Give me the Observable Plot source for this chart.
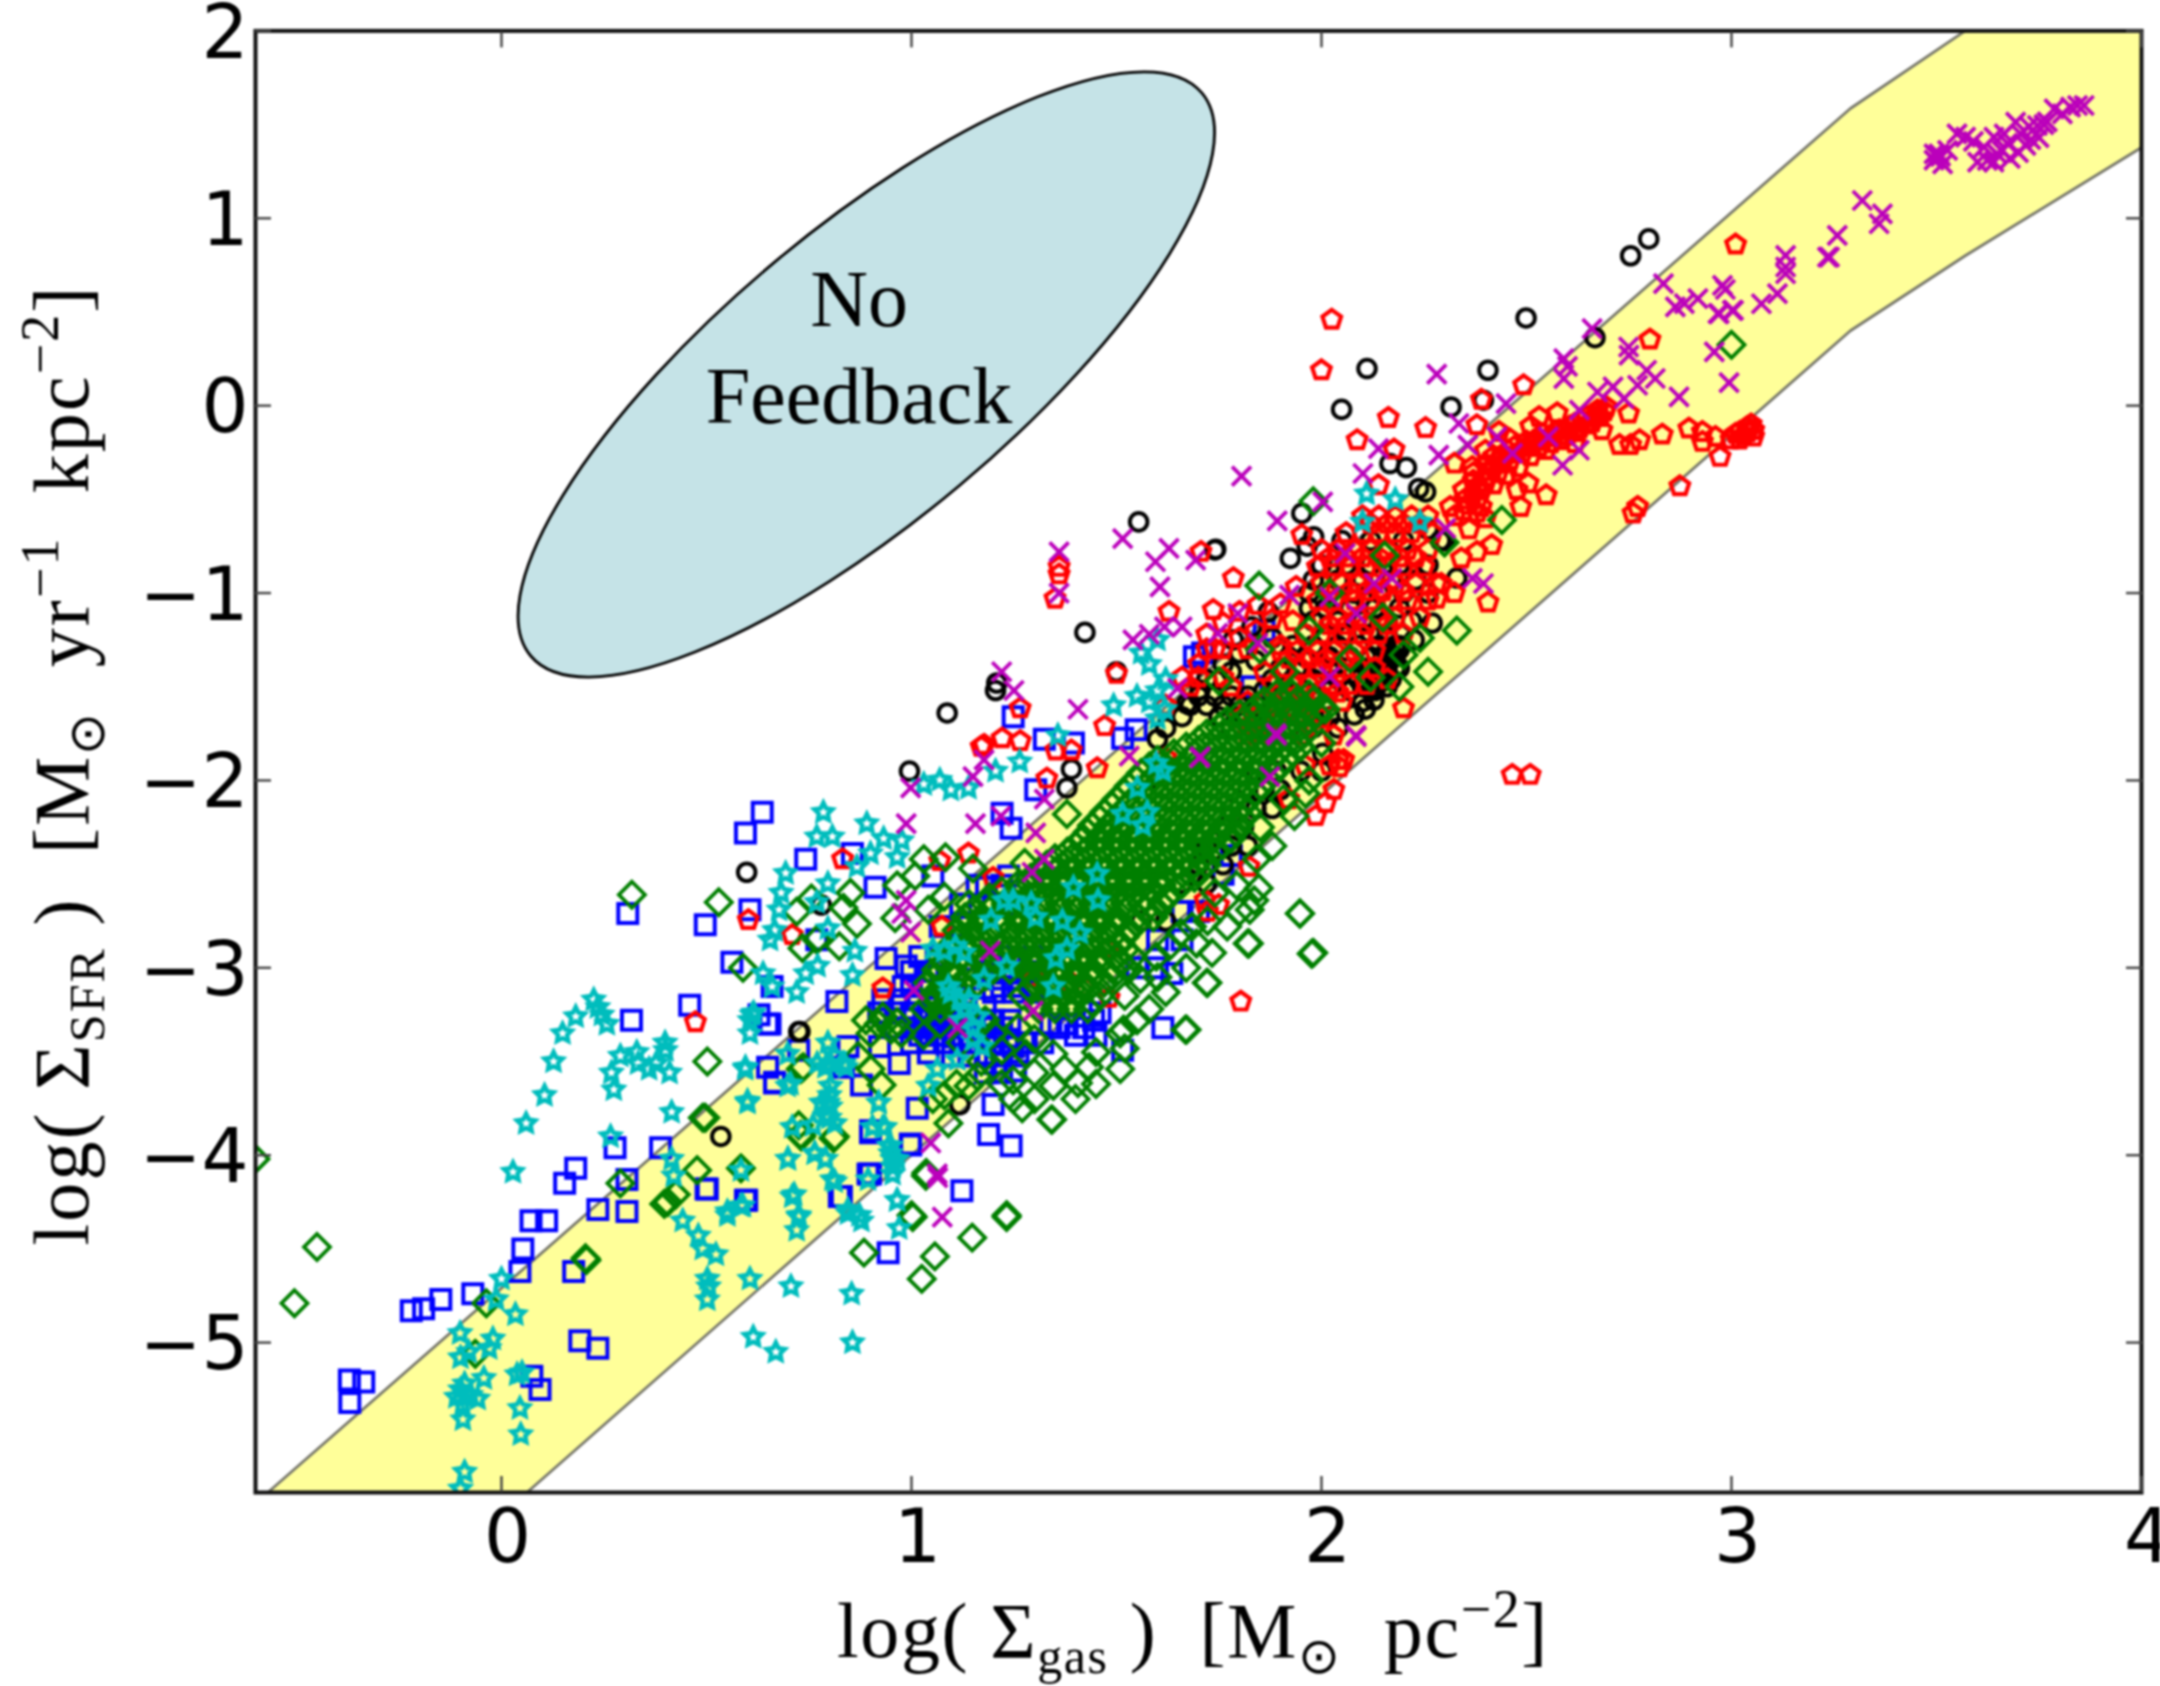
<!DOCTYPE html>
<html><head><meta charset="utf-8">
<script src="https://cdn.jsdelivr.net/npm/d3@7"></script>
<script src="https://cdn.jsdelivr.net/npm/@observablehq/plot@0.6"></script>
<style>html,body{margin:0;padding:0;background:#fff}svg{display:block;filter:blur(0.9px)}</style>
</head><body><div id="chart"></div>
<script>
const xTicks=[0,1,2,3,4];
const yTicks=[-5,-4,-3,-2,-1,0,1,2];
const bandX=[-0.57,0.062,3.29,3.57,4.0];
const bandUpper=[-5.8,-4.59,1.586,2,2];
const bandLower=[-5.8,-5.8,0.40,0.80,1.378];
const noFeedback=[{t:"No",x:0.872,y:0.423},{t:"Feedback",x:0.872,y:-0.094}];

const blackSparse=[[1.087,-1.64],[.995,-1.95],[.598,-2.49],[.78,-2.665],[.728,-3.34],[1.118,-3.73],[.535,-3.90],[1.39,-1.94],[1.379,-2.04],[.725,-3.34],
[2.499,.468],[2.111,.198],[2.406,.189],[2.049,-.02],[2.316,-.007],[2.395,.029],[2.667,.363],[2.754,.80],[2.798,.89],[2.167,-.309],[2.207,-.33],[2.237,-.442],[2.254,-.46],[1.952,-.575],[1.742,-.766],[1.924,-.815],[1.981,-.70],[1.965,-.75],[2.33,-.92],[2.27,-1.16],[2.226,-1.25],[1.704,-1.517],[1.785,-1.25],[1.671,-1.59],[2.128,-1.571],[2.107,-1.62],[2.003,-1.855],[1.554,-.62],[1.74,-.77],[1.423,-1.21],[1.50,-1.42],[1.208,-1.48],[1.205,-1.52],
[2.26,-.66],[2.30,-.72],[2.19,-1.40],[2.17,-1.33],[2.15,-1.47],[2.18,-1.28],[2.16,-1.38],[2.14,-1.43],[2.12,-1.52],[2.10,-1.58],[2.08,-1.65],[1.62,-1.72],[1.60,-1.78],[1.66,-1.66],[1.72,-1.46],[1.76,-1.38],[1.80,-1.32],[1.58,-2.0],[1.83,-1.18],[1.87,-1.1],[1.78,-1.42],[1.84,-1.36],[1.88,-1.24]];
const blackRows=[[-1.52,1.86,1.91,1.96,2.02,2.07,2.13],[-1.40,1.90,1.94,2.0,2.06,2.11,2.16],[-1.28,1.93,1.98,2.04,2.09,2.14,2.19],[-1.15,1.98,2.04,2.10,2.16,2.22],[-1.0,1.97,2.02,2.08,2.14,2.2,2.26],[-.85,2.0,2.06,2.12,2.19,2.26],[-.72,2.05,2.12,2.2,2.29],[-1.72,1.78,1.85,1.92,1.98,2.04],[-1.95,1.84,1.89,1.95,2.0],[-2.15,1.78,1.84,1.88],[-2.35,1.72,1.78,1.82],[-2.55,1.66,1.72],[-2.75,1.56,1.62],[-1.6,1.68,1.72,1.76,1.80,1.84],
[-1.46,1.88,1.93,1.98,2.04,2.09,2.14,2.17],[-1.34,1.92,1.96,2.02,2.07,2.12,2.15,2.18],[-1.22,1.96,2.01,2.06,2.12,2.16],[-1.08,1.97,2.01,2.07,2.13,2.19],[-.93,1.98,2.04,2.1,2.17,2.23],[-1.66,1.75,1.8,1.86,1.92,1.98,2.02],[-1.4,2.12,2.15,2.18],[-1.5,2.1,2.13,2.16],[-1.3,2.16,2.19],[-1.55,1.7,1.74,1.78,1.82],[-2.45,1.7,1.76],[-2.25,1.76,1.81],[-2.05,1.82,1.86,1.9]];

const blueSparse=[[.317,-3.28],[.459,-3.20],[.655,-3.30],[.649,-3.53],[.666,-3.61],[.388,-3.96],[.277,-3.96],[.181,-4.07],[.154,-4.15],[.306,-4.13],[.235,-4.29],[.306,-4.30],[.072,-4.35],[.11,-4.35],[.052,-4.50],[.045,-4.62],[.176,-4.62],[-.07,-4.74],[-.148,-4.77],[-.19,-4.82],[-.22,-4.83],[.499,-4.18],[.598,-4.24],[.829,-4.22],[.90,-4.10],[.90,-3.88],[.997,-3.94],[.943,-4.52],[.191,-4.99],[.235,-5.03],[.074,-5.18],[.094,-5.25],[-.371,-5.20],[-.336,-5.21],[-.37,-5.32],
[.636,-2.17],[.595,-2.28],[.742,-2.42],[.856,-2.39],[.911,-2.57],[.606,-2.69],[.497,-2.77],[.769,-2.85],[.562,-2.97],[.66,-3.10],[.818,-3.18],[.938,-2.95],[.987,-2.99],[.649,-3.30],[.628,-3.25],[.666,-3.615],[.725,-3.44],[.845,-3.42],[.922,-3.42],[.97,-3.51],[1.041,-3.455],[.878,-3.625],[.834,-3.53],[1.014,-3.75],[.90,-3.87],[.894,-4.10],[.998,-3.945],[1.199,-3.73],[1.188,-3.89],[1.243,-3.95],[1.123,-4.19],[.824,-4.22],[.502,-4.18],[.595,-4.24],[.308,-2.71],
[1.635,-3.03],[1.613,-3.32],[1.515,-3.44],[1.45,-3.36],[1.444,-3.28],[1.40,-3.36],[1.254,-3.55],[1.205,-3.51],[1.248,-3.42],[1.303,-2.05],[1.243,-2.255],[1.221,-2.175],[1.248,-1.66],[1.324,-1.78],[1.395,-1.80],[1.515,-1.775],[1.548,-1.73],[1.052,-2.51],[1.183,-2.57],[1.237,-2.51],[1.69,-1.34],[1.71,-1.32],[1.86,-1.2],[1.83,-1.5]];
const blueRows=[[-3.17,.93,.97,1.01,1.05],[-3.24,.92,.96,1.0,1.04,1.08,1.12,1.46],[-3.32,.96,1.01,1.05,1.09,1.14,1.18,1.22,1.36,1.42],[-3.40,1.0,1.04,1.08,1.12,1.16,1.20,1.24,1.28,1.32],[-3.47,1.1,1.14,1.18,1.22,1.26],[-3.10,.98,1.0,1.22,1.26,1.30],[-3.02,1.0,1.04,1.18,1.22,1.28],[-2.94,1.02,1.06,1.24,1.30],[-2.78,1.07,1.12],[-2.66,1.12,1.2,1.24],[-2.56,1.16,1.22],[-3.56,1.18,1.22],[-3.0,1.55,1.6],[-2.85,1.6,1.66],[-2.7,1.66,1.7],[-2.4,1.78],[-2.5,1.76],
[-3.28,1.03,1.06,1.09,1.12,1.15,1.2,1.24],[-3.36,1.02,1.06,1.1,1.14,1.18,1.21],[-3.21,1.06,1.09,1.13,1.18],[-3.13,1.2,1.25,1.3],[-3.06,1.14,1.2,1.25],[-3.3,1.34,1.38]];

const redSparse=[[.473,-3.29],[1.265,-1.615],[1.221,-1.775],[1.177,-1.81],[1.265,-1.79],[1.352,-1.84],[1.39,-1.84],[1.471,-1.71],[1.33,-1.99],[1.453,-1.935],[.832,-2.42],[1.069,-2.43],[1.139,-2.39],[1.199,-2.52],[.602,-2.745],[.709,-2.825],[1.074,-2.78],[.93,-3.11],[1.803,-3.18],[1.986,-2.19],[1.823,-2.46],[1.716,-2.64],[1.749,-2.665],[1.722,-2.70],[2.054,-1.89],[2.044,-1.93],[1.482,-3.16],[1.42,-3.10],[1.39,-3.08],
[2.025,.459],[1.9998,.189],[2.163,-.065],[2.254,-.119],[2.087,-.184],[2.177,-.234],[2.39,.032],[2.493,.109],[2.801,.353],[3.01,.86],[2.379,-.104],[2.433,-.14],[2.531,-.06],[2.575,-.04],[2.749,-.042],[2.684,-.131],[2.727,-.21],[2.754,-.21],[2.776,-.184],[2.831,-.154],[2.896,-.122],[2.929,-.14],[2.929,-.193],[2.961,-.167],[2.972,-.273],[2.874,-.43],[2.771,-.54],[2.76,-.575],[2.548,-.478],[2.486,-.54],[2.504,-.415],[2.477,-.45],[2.324,-.309],[2.139,-.424],
[2.999,-.18],[3.02,-.14],[3.038,-.115],[3.054,-.13],[3.048,-.10],[3.02,-.18],[3.054,-.165],[3.03,-.16],[3.01,-.15],[3.04,-.14],
[2.39,-.45],[2.40,-.38],[2.42,-.327],[2.44,-.31],[2.477,-.255],[2.499,-.22],[2.52,-.184],[2.548,-.236],[2.564,-.167],[2.597,-.131],[2.618,-.096],[2.646,-.06],[2.673,-.025],[2.695,-.007],[2.618,-.2],[2.586,-.184],[2.51,-.11],[2.51,-.27],[2.455,-.24],[2.40,-.24],[2.368,-.327],[2.346,-.45],[2.39,-.54],[2.346,-.56],[2.324,-.59],[2.37,-.40],[2.42,-.42],[2.38,-.50],[2.45,-.37],[2.48,-.33],[2.53,-.22],[2.58,-.13],[2.62,-.14],[2.66,-.09],[2.42,-.27],[2.46,-.18],[2.40,-.60],[2.36,-.66],
[2.37,-.47],[2.38,-.43],[2.40,-.41],[2.41,-.35],[2.43,-.36],[2.44,-.28],[2.46,-.29],[2.49,-.25],[2.51,-.21],[2.54,-.19],[2.56,-.2],[2.58,-.16],[2.60,-.16],[2.63,-.12],[2.65,-.1],[2.68,-.06],[2.69,-.03],[2.665,-.06],[2.635,-.08],[2.605,-.11],[2.57,-.14],[2.54,-.15],[2.50,-.19],[2.47,-.22],[2.43,-.3],[2.40,-.31],[2.37,-.36],[2.35,-.5],[2.36,-.53],[2.38,-.57],
[2.415,-.744],[2.379,-.78],[2.341,-.815],[2.324,-1.0],[2.406,-1.05],[2.281,-1.03],[2.292,-.95],[2.314,-.54],[2.2,-1.615],[2.161,-1.46],[1.785,-.92],[1.706,-.78],[1.628,-1.10],[1.736,-1.09],[1.952,-.69],[1.938,-.967],[1.845,-1.064],[2.041,-1.891],[2.465,-1.97],[2.509,-1.97],[1.62,-1.88],[1.60,-1.93],[1.36,-.86],[1.36,-.90],[1.35,-1.03],[1.50,-1.43],[1.17,-1.82],[2.03,-2.05],[2.01,-2.12],
[1.72,-1.22],[1.76,-1.16],[1.80,-1.1],[1.84,-1.2],[1.88,-1.14],[1.9,-1.06],[1.93,-1.15],[1.7,-1.38],[1.74,-1.3],[1.8,-1.24],[1.86,-1.42],[1.68,-1.5],[1.62,-1.6],[1.78,-1.5],[1.9,-1.28]];
const redRows=[[-.59,2.10,2.14,2.18,2.22,2.26],[-.68,2.06,2.10,2.14,2.18,2.22,2.27],[-.77,2.0,2.04,2.08,2.12,2.16,2.21,2.26],[-.86,1.99,2.03,2.07,2.11,2.16,2.2,2.25],[-.95,2.0,2.05,2.09,2.13,2.18,2.23,2.28],[-1.04,1.99,2.03,2.08,2.12,2.17,2.21,2.26],[-1.13,2.0,2.04,2.09,2.14,2.18,2.24],[-1.22,1.96,2.0,2.05,2.1,2.14,2.2],[-1.31,1.90,1.94,1.99,2.03,2.08,2.13],[-1.40,1.91,1.95,1.99,2.04,2.09,2.13],[-1.49,1.88,1.93,1.97,2.02,2.07,2.11],[-1.58,1.82,1.86,1.91,1.96,2.01,2.05],[-1.67,1.80,1.85,1.9,1.95,2.0],[-1.76,1.82,1.88,1.95,2.03],[-1.3,1.72,1.76,1.82],[-1.45,1.66,1.7,1.76],[-1.92,1.96,2.02],[-2.1,1.92],[-2.9,1.48],[-3.05,1.3],
[-.63,2.12,2.16,2.2,2.24],[-.81,2.02,2.06,2.1,2.14,2.19,2.23],[-.99,2.02,2.07,2.11,2.15,2.2],[-1.17,2.02,2.06,2.11,2.16],[-1.35,1.92,1.97,2.01,2.06],[-1.53,1.9,1.95,1.99,2.04],[-1.71,1.82,1.87,1.92,1.97]];

const greenSparse=[[-.45,-4.49],[-.505,-4.79],[-.037,-4.79],[-.064,-5.06],[.205,-4.55],[.29,-4.15],[.425,-4.21],[.397,-4.26],[.477,-4.08],[.584,-4.07],[.491,-3.80],[.502,-3.50],[.725,-3.84],[.73,-3.89],[.813,-3.90],[.73,-3.54],[1.003,-4.33],[.884,-4.52],[1.025,-4.66],[1.057,-4.54],[1.035,-4.11],[-.6,-4.02],[.318,-2.61],[.53,-2.65],[3.0,.325],[2.26,-1.42],[2.33,-1.2],[2.44,-.61],[1.98,-2.92],[1.947,-2.71],[1.82,-2.87],[1.72,-3.08],[1.668,-3.33],[1.517,-3.33],[1.148,-4.44],[1.232,-4.33],
[.72,-2.70],[.756,-2.63],[.851,-2.60],[.834,-2.68],[.867,-2.765],[.769,-2.85],[.734,-2.895],[.824,-2.885],[.589,-3.0],[.965,-2.56],[1.009,-2.51],[1.03,-2.42],[1.083,-2.41],[1.15,-2.47],[1.08,-2.62],[1.041,-2.69],[.96,-2.735],[1.276,-2.44],[1.379,-2.18],
[.889,-3.28],[.92,-3.30],[.95,-3.33],[.975,-3.35],[.90,-3.35],[.93,-3.26],[.965,-3.29],[.736,-3.53],[.90,-3.54],[.927,-3.625],[.87,-3.47],[.497,-3.80],[.731,-3.90],[.81,-3.91],[1.036,-4.095],[1.09,-3.83],[1.052,-3.70],[1.139,-3.63],[1.08,-3.68],[1.161,-3.58],[1.11,-3.62],[1.27,-3.75],[1.248,-3.70],[1.248,-3.60],[1.341,-3.81],[1.346,-3.63],[1.406,-3.615],[1.373,-3.54],[1.433,-3.53],[1.346,-3.46],[1.509,-3.54],[1.509,-3.35],[1.52,-3.43],[1.58,-3.22],[1.671,-3.33],[1.722,-3.08],[1.733,-2.92],[1.695,-2.87],[1.823,-2.87],[1.948,-2.71],[1.976,-2.925],[1.722,-2.75],[1.684,-2.78],[1.656,-2.815],[1.629,-2.885],[1.597,-2.94],[1.558,-3.06],[1.52,-3.15],[1.793,-2.56],[1.825,-2.69],[1.836,-2.64],[1.847,-2.575],[1.842,-2.42],[1.934,-2.19],[1.907,-2.10],[1.961,-2.07],[1.0,-4.32],[1.232,-4.32],
[.405,-4.25],[.207,-4.56],[1.343,-3.81],[1.30,-3.70],[1.22,-3.62],[1.40,-3.70],[1.45,-3.62],[1.30,-3.56],[1.45,-3.45],[1.55,-3.28],[1.62,-3.13],[1.67,-3.0],[1.60,-3.05],[1.77,-2.78],[1.80,-2.70],[1.74,-2.60],[1.88,-2.35],[1.85,-2.25],[1.97,-2.0],[2.0,-1.8],[2.01,-1.62],
[1.848,-.96],[1.98,-.51],[2.154,-.80],[2.30,-.73],[2.02,-1.0],[2.15,-1.13],[2.07,-1.35],[1.97,-1.2],[2.12,-1.45],[2.2,-1.33],[2.19,-1.5],[1.85,-1.3],[1.75,-1.47],[1.91,-1.42],[2.24,-1.24],
[1.2,-3.35],[1.26,-3.32],[1.3,-3.38],[1.22,-3.44],[1.17,-3.5],[1.28,-3.46],[1.12,-3.4],[1.07,-3.3],[1.03,-3.36],[1.18,-3.28]];
const greenRows=[[-3.22,1.03,1.07,1.11,1.31,1.35,1.39,1.43],[-3.15,1.05,1.09,1.13,1.27,1.33,1.37,1.41,1.46],[-3.08,1.04,1.08,1.12,1.16,1.30,1.34,1.38,1.42,1.47],[-3.01,1.06,1.10,1.15,1.20,1.24,1.28,1.32,1.36,1.40,1.44,1.49,1.53],[-2.94,1.07,1.12,1.17,1.22,1.26,1.30,1.34,1.38,1.42,1.46,1.50,1.54],[-2.87,1.10,1.14,1.18,1.23,1.27,1.31,1.35,1.39,1.43,1.47,1.51],[-2.80,1.11,1.15,1.19,1.24,1.28,1.32,1.36,1.40,1.44,1.48,1.53],[-2.73,1.13,1.17,1.21,1.26,1.30,1.34,1.38,1.42,1.46,1.50,1.55,1.59],[-2.66,1.14,1.18,1.23,1.27,1.32,1.36,1.40,1.44,1.48,1.52,1.56,1.61],[-2.59,1.22,1.26,1.31,1.35,1.39,1.43,1.47,1.51,1.55,1.59,1.64],[-2.52,1.29,1.33,1.37,1.41,1.45,1.49,1.53,1.57,1.61,1.65,1.69],[-2.45,1.33,1.37,1.41,1.45,1.49,1.53,1.57,1.61,1.65,1.69,1.72],[-2.38,1.38,1.42,1.46,1.50,1.54,1.58,1.62,1.66,1.70,1.74],[-2.31,1.42,1.46,1.50,1.54,1.58,1.62,1.66,1.70,1.74,1.78],[-2.24,1.44,1.48,1.52,1.56,1.60,1.64,1.68,1.72,1.76,1.80],[-2.17,1.47,1.51,1.55,1.59,1.63,1.67,1.71,1.75,1.79,1.82],[-2.10,1.50,1.54,1.58,1.62,1.66,1.70,1.74,1.78,1.82],[-2.03,1.53,1.57,1.61,1.65,1.69,1.73,1.77,1.81,1.85],[-1.96,1.56,1.60,1.64,1.68,1.72,1.76,1.80,1.84,1.88],[-1.89,1.60,1.64,1.68,1.72,1.76,1.80,1.84,1.88,1.91],[-1.82,1.67,1.71,1.75,1.79,1.83,1.87,1.91,1.95],[-1.75,1.72,1.76,1.80,1.84,1.88,1.92,1.96],[-1.68,1.77,1.81,1.85,1.89,1.93,1.97],[-1.61,1.84,1.88,1.92,1.96,2.0],[-1.54,1.89,1.93,1.97],
[-3.185,1.05,1.09,1.31,1.35,1.39,1.44],[-3.115,1.07,1.11,1.29,1.35,1.39,1.43],[-3.045,1.06,1.10,1.14,1.18,1.3,1.36,1.4,1.44,1.49],[-2.975,1.08,1.13,1.18,1.22,1.26,1.3,1.34,1.38,1.42,1.46,1.51],[-2.905,1.09,1.14,1.19,1.24,1.28,1.32,1.36,1.4,1.44,1.48,1.52],[-2.835,1.12,1.16,1.2,1.25,1.29,1.33,1.37,1.41,1.45,1.49,1.52],[-2.765,1.13,1.17,1.21,1.26,1.3,1.34,1.38,1.42,1.46,1.5,1.55],[-2.695,1.15,1.19,1.24,1.28,1.32,1.36,1.4,1.44,1.48,1.52,1.57,1.6],[-2.625,1.19,1.24,1.28,1.33,1.37,1.41,1.45,1.49,1.53,1.57,1.62],[-2.555,1.26,1.29,1.33,1.37,1.41,1.45,1.49,1.53,1.57,1.61,1.66],[-2.485,1.31,1.35,1.39,1.43,1.47,1.51,1.55,1.59,1.63,1.67,1.7],[-2.415,1.35,1.39,1.43,1.47,1.51,1.55,1.59,1.63,1.67,1.71],[-2.345,1.4,1.44,1.48,1.52,1.56,1.6,1.64,1.68,1.72,1.76],[-2.275,1.43,1.47,1.51,1.55,1.59,1.63,1.67,1.71,1.75,1.79],[-2.205,1.46,1.5,1.54,1.58,1.62,1.66,1.7,1.74,1.78,1.81],[-2.135,1.49,1.53,1.57,1.61,1.65,1.69,1.73,1.77,1.81],[-2.065,1.52,1.56,1.6,1.64,1.68,1.72,1.76,1.8,1.84],[-1.995,1.55,1.59,1.63,1.67,1.71,1.75,1.79,1.83,1.87],[-1.925,1.58,1.62,1.66,1.7,1.74,1.78,1.82,1.86,1.9],[-1.855,1.64,1.69,1.73,1.77,1.81,1.85,1.89,1.93],[-1.785,1.7,1.74,1.78,1.82,1.86,1.9,1.94],[-1.715,1.75,1.79,1.83,1.87,1.91,1.95],[-1.645,1.8,1.84,1.88,1.92,1.96,1.99],[-1.575,1.86,1.9,1.94,1.98]];

const cyanStars=[[-.09,-5.69],[-.10,-5.78],[.047,-5.49],[.045,-5.35],[.05,-5.16],[.038,-5.17],[-.043,-5.19],[-.094,-5.41],[-.095,-5.33],[-.10,-5.25],[-.058,-5.30],[-.09,-5.22],[-.075,-5.28],[-.11,-5.29],[-.021,-4.98],[-.101,-4.95],[-.08,-5.05],[-.10,-5.08],[-.03,-5.03],[.0,-4.66],[-.013,-4.77],[.034,-4.85],[.028,-4.09],[.06,-3.83],[.105,-3.68],[.127,-3.50],[.149,-3.35],[.181,-3.26],[.235,-3.21],[.225,-3.17],[.245,-3.25],[.257,-3.30],[.274,-3.65],[.268,-3.56],[.29,-3.47],[.33,-3.45],[.333,-3.51],[.36,-3.54],[.377,-3.51],[.399,-3.40],[.40,-3.44],[.41,-3.56],[.415,-3.77],[.266,-3.90],[.415,-4.02],[.42,-4.11],[.442,-4.35],[.48,-4.43],[.491,-4.50],[.523,-4.53],[.502,-4.66],[.505,-4.70],[.502,-4.77],[.551,-4.32],[.589,-4.27],[.584,-4.08],[.606,-4.66],[.706,-4.70],[.854,-4.74],[.614,-4.97],[.669,-5.05],[.856,-5.0],[.714,-4.21],[.725,-4.33],[.72,-4.40],[.699,-4.02],[.764,-3.99],[.79,-4.02],[.813,-4.14],[.845,-4.31],[.878,-4.35],[.965,-4.24],[.97,-4.39],[.594,-3.54],[.606,-3.28],[.615,-3.24],[.600,-3.72],[.705,-3.62],[.802,-3.74],[.80,-3.68],[.80,-3.80],[.78,-3.72],[.76,-3.84],[.92,-3.72],[.905,-3.85],[.935,-3.85],[.954,-4.02],[.954,-4.10],[.945,-3.95],[.813,-3.47],[.79,-3.53],[.84,-3.53],
[.785,-2.17],[.891,-2.23],[.769,-2.30],[.807,-2.30],[.932,-2.31],[.976,-2.32],[.965,-2.41],[.90,-2.39],[.867,-2.46],[.693,-2.495],[.796,-2.55],[.682,-2.60],[.677,-2.69],[.769,-2.65],[.666,-2.80],[.655,-2.85],[.796,-2.79],[.862,-2.91],[.771,-2.99],[.742,-3.03],[.72,-3.13],[.856,-3.04],[.638,-3.03],[.66,-3.10],[.611,-3.25],[.606,-3.35],[.595,-3.53],[.796,-3.40],[.802,-3.51],[.77,-3.51],[.835,-3.51],[.698,-3.46],[.698,-3.63],[.802,-3.63],[.796,-3.72],[.79,-3.79],[.813,-3.83],[.709,-3.85],[.92,-3.72],[.905,-3.85],[.93,-3.85],[.949,-3.95],[.954,-4.06],[.949,-3.99],[.965,-4.02],[.60,-3.71],[.698,-4.02],[.764,-3.99],[.79,-4.02],[.807,-4.13],[.709,-4.22],[.725,-4.32],[.551,-4.30],[.584,-4.27],[.845,-4.29],[.873,-4.32],[.965,-4.24],[.894,-4.13],[1.03,-2.02],[1.069,-1.998],[1.096,-2.05],[1.139,-2.04],[1.205,-1.95],[1.264,-1.90],[1.357,-1.76],[1.493,-1.6],[1.618,-1.62],[1.60,-1.67],[1.55,-1.55],[1.58,-1.58],[1.60,-1.52],[1.62,-1.46],[1.56,-1.32],[1.58,-1.38],[1.60,-1.25],
[1.597,-1.91],[1.613,-1.95],[1.551,-2.04],[1.575,-2.17],[1.564,-2.24],[1.515,-2.18],[1.453,-2.50],[1.395,-2.57],[1.455,-2.64],[1.368,-2.75],[1.411,-2.815],[1.379,-2.90],[1.346,-3.10],[1.352,-2.95],[1.303,-2.73],[1.248,-2.64],[1.226,-2.64],[1.292,-2.655],[1.194,-2.745],[1.232,-2.99],[1.177,-3.06],[1.052,-2.90],[1.107,-2.885],[1.128,-2.92],[1.08,-2.91],[1.096,-3.135],[1.117,-3.17],[1.128,-3.225],[1.161,-3.26],[1.15,-3.385],[1.172,-3.42],[1.112,-3.49],[1.063,-3.54],[1.041,-3.63],[1.09,-3.10],[1.14,-3.17],[1.12,-3.28],[1.15,-3.32],
[2.11,-.47],[2.18,-.50],[2.10,-.62],[2.24,-.62]];

const purpleX=[[1.064,-4.12],[1.075,-4.33],[1.406,-1.62],[1.177,-1.89],[1.15,-1.98],[.998,-2.04],[.987,-2.23],[1.156,-2.23],[1.218,-2.19],[1.303,-2.28],[1.324,-2.10],[1.324,-2.42],[1.294,-2.49],[.987,-2.64],[.976,-2.71],[.998,-2.81],[1.192,-2.91],[1.006,-3.12],[1.112,-3.32],[1.297,-3.23],[1.047,-3.935],[1.063,-4.10],[1.531,-1.87],[1.703,-1.88],[1.891,-1.76],[1.874,-1.98],[2.084,-1.76],
[2.281,.168],[2.591,.251],[2.60,.21],[2.591,.144],[2.45,.011],[2.66,.411],[2.834,.651],[2.749,.313],[2.75,.27],[2.793,.189],[2.814,.145],[2.872,.047],[2.863,.527],[2.885,.545],[2.918,.571],[2.985,.62],[2.967,.491],[3.005,.509],[2.958,.287],[2.994,.123],[3.239,.793],
[2.335,-.095],[2.357,-.211],[2.286,-.264],[2.139,-.229],[2.101,-.362],[2.003,-.513],[1.892,-.615],[1.805,-.376],[2.428,-.167],[2.466,-.255],[2.553,-.167],[2.629,-.238],[2.588,-.318],[2.629,-.024],[2.673,.073],[2.711,.10],[2.738,.038],[2.771,.109],[2.303,-.655],[2.368,-.922],[2.395,-.949],[2.172,-.922],[2.128,-.949],[2.058,-.789],[2.02,-1.02],[2.085,-1.109],[2.02,-1.447],[1.889,-1.749],[2.085,-1.767],[1.704,-1.873],[1.845,-1.269],[1.796,-1.109],[1.747,-1.215],[1.649,-1.509],[1.922,-1.011],[1.628,-.762],[1.693,-.824],[1.595,-.833],[1.606,-.967],[1.66,-1.18],[1.617,-1.18],[1.36,-.78],[1.36,-1.0],[1.515,-.71],[1.58,-1.22],[1.54,-1.25],[1.22,-1.42],[1.25,-1.52],
[3.319,1.095],[3.368,1.024],[3.36,.971],[3.258,.909],[3.234,.793],[3.132,.802],[3.132,.74],[3.132,.704],[3.112,.598],[3.073,.544],[2.978,.642],[2.97,.491],[3.002,.509],
[3.506,1.344],[3.51,1.33],[3.494,1.31],[3.527,1.362],[3.494,1.344],[3.515,1.29],[3.571,1.433],[3.616,1.38],[3.624,1.309],[3.64,1.433],[3.648,1.344],[3.665,1.45],[3.673,1.40],[3.693,1.513],[3.705,1.45],[3.718,1.389],[3.726,1.49],[3.746,1.495],[3.762,1.50],[3.787,1.584],[3.807,1.557],[3.827,1.593],[3.844,1.602],[3.86,1.602],[3.77,1.515],[3.68,1.32],[3.60,1.30],[3.75,1.43],[3.66,1.36],[3.70,1.35],[3.55,1.45],[3.59,1.41],[3.64,1.30],[3.73,1.42]];

const rows=r=>r.flatMap(([y,...xs])=>xs.map(x=>[x,y]));
const symbol=(pts)=>({draw(c,size){const r=Math.sqrt(size/Math.PI);pts.forEach((p,i)=>{i?c.lineTo(p[0]*r,p[1]*r):c.moveTo(p[0]*r,p[1]*r)});c.closePath()}});
const poly=(n,rot,radii)=>d3.range(n).map(i=>{const a=rot+i*2*Math.PI/n,q=radii[i%radii.length];return [q*Math.cos(a),q*Math.sin(a)]});
const squareSym=symbol([[-1,-1],[1,-1],[1,1],[-1,1]]);
const diamondSym=symbol([[0,-1],[1,0],[0,1],[-1,0]]);
const pentagonSym=symbol(poly(5,-Math.PI/2,[1]));
const starSym=symbol(poly(10,-Math.PI/2,[1,0.5]));
const timesSym={draw(c,size){const r=Math.sqrt(size/Math.PI);c.moveTo(-r,-r);c.lineTo(r,r);c.moveTo(-r,r);c.lineTo(r,-r)}};
const X=d=>d[0],Y=d=>d[1];
const fmtX=d=>String(d);
const fmtY=d=>d<0?"\u2212"+Math.abs(d):String(d);
const band=bandX.map((x,i)=>({x,u:bandUpper[i],l:bandLower[i]}));
const labelFont="'Liberation Serif',serif",tickFont="'DejaVu Sans',sans-serif";

const ellipseMark=(index,{x,y})=>{
  const cx=x(0.891),cy=y(0.164);
  return d3.create("svg:ellipse").attr("cx",cx).attr("cy",cy).attr("rx",438).attr("ry",145)
    .attr("transform",`rotate(-40 ${cx} ${cy})`).attr("fill","#c5e3e7").attr("stroke","#000").attr("stroke-width",2.8).node();
};

const plot=Plot.plot({
  width:2160,height:1686,marginLeft:255,marginRight:19,marginTop:30.4,marginBottom:194,
  x:{domain:[-0.6,4],ticks:xTicks,label:null},
  y:{domain:[-5.8,2],ticks:yTicks,label:null},
  style:{background:"#fff"},
  marks:[
    Plot.areaY(band,{x:"x",y1:"l",y2:"u",fill:"#ffff99",curve:"linear"}),
    Plot.line(band.slice(0,4).filter((d,i)=>i!==1),{x:"x",y:"u",stroke:"#77776a",strokeWidth:2.8}),
    Plot.line(band.slice(1),{x:"x",y:"l",stroke:"#77776a",strokeWidth:2.8}),
    ellipseMark,
    Plot.text(noFeedback,{x:"x",y:"y",text:"t",fontFamily:labelFont,fontSize:80,fill:"#000",lineAnchor:"bottom"}),
    Plot.dot(blueSparse.concat(rows(blueRows)),{x:X,y:Y,symbol:squareSym,r:9.5,stroke:"#0000ff",strokeWidth:4,fill:"none",clip:true}),
    Plot.dot(blackSparse.concat(rows(blackRows)),{x:X,y:Y,symbol:"circle",r:8.8,stroke:"#000",strokeWidth:4,fill:"none",clip:true}),
    Plot.dot(redSparse.concat(rows(redRows)),{x:X,y:Y,symbol:pentagonSym,r:9.8,stroke:"#ff0000",strokeWidth:4.2,fill:"none",clip:true}),
    Plot.dot(greenSparse.concat(rows(greenRows)),{x:X,y:Y,symbol:diamondSym,r:13,stroke:"#007f00",strokeWidth:3.8,fill:"none",clip:true}),
    Plot.dot(cyanStars,{x:X,y:Y,symbol:starSym,r:9.5,stroke:"#00bdbd",strokeWidth:4.4,fill:"none",clip:true}),
    Plot.dot(purpleX,{x:X,y:Y,symbol:timesSym,r:9.5,stroke:"#bb00bb",strokeWidth:3.8,fill:"none",clip:true}),
    Plot.frame({stroke:"#111",strokeWidth:4}),
    Plot.axisX({anchor:"bottom",ticks:xTicks,tickSize:-16,fill:"none",stroke:"#444",strokeWidth:2.4,label:null}),
    Plot.axisX({anchor:"top",ticks:xTicks,tickSize:-16,fill:"none",stroke:"#444",strokeWidth:2.4,label:null}),
    Plot.axisY({anchor:"left",ticks:yTicks,tickSize:-16,fill:"none",stroke:"#444",strokeWidth:2.4,label:null}),
    Plot.axisY({anchor:"right",ticks:yTicks,tickSize:-16,fill:"none",stroke:"#444",strokeWidth:2.4,label:null}),
    Plot.axisX({anchor:"bottom",ticks:xTicks,tickSize:0,tickPadding:17,tickFormat:fmtX,fontSize:74,fontFamily:tickFont,dx:6,label:null,fill:"#000"}),
    Plot.axisY({anchor:"left",ticks:yTicks,tickSize:0,tickPadding:7,tickFormat:fmtY,fontSize:74,fontFamily:tickFont,dy:3,label:null,fill:"#000"})
  ]
});

function fancyLabel(svg,transform,spacing){
  return d3.select(svg).append("text").attr("transform",transform).attr("text-anchor","middle")
    .attr("font-family",labelFont).attr("font-size",78).attr("letter-spacing",spacing).attr("fill","#000").attr("xml:space","preserve");
}
function addParts(t,parts){
  let shift=0;
  parts.forEach(([s,size,dy])=>{
    t.append("tspan").attr("font-size",size).attr("dy",dy-shift).text(s);shift=dy;
  });
}
const xl=fancyLabel(plot,"translate(1193,1657)",1.6);
addParts(xl,[["log( \u03a3",78,0],["gas",50,16],[" )  [M",78,0],["\u2299",50,16],["  pc",78,0],["\u22122",54,-30],["]",78,0]]);
const yl=fancyLabel(plot,"translate(88,765) rotate(-90)",2.1);
addParts(yl,[["log( \u03a3",78,0],["SFR",50,16],[" )  [M",78,0],["\u2299",50,16],["  yr",78,0],["\u22121",54,-30],["  kpc",78,0],["\u22122",54,-30],["]",78,0]]);
document.getElementById("chart").append(plot);
</script></body></html>
